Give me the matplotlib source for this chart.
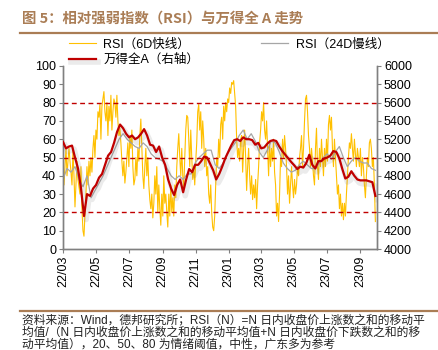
import matplotlib
matplotlib.use("Agg")
import matplotlib.pyplot as plt
import matplotlib.dates as mdates
import matplotlib.patheffects as pe
from matplotlib.lines import Line2D
import pandas as pd

plt.rcParams['font.family'] = ['Liberation Sans', 'Noto Sans CJK SC', 'DejaVu Sans']

start_date = '2022-03-01'
end_date = '2023-09-29'

rsi6 = [50, 35, 45, 55, 40, 48, 55, 48, 42, 35, 54, 40, 23, 35, 48, 38, 34, 30, 45, 22,
        10, 7, 18, 30, 45, 35, 48, 40, 50, 42, 55, 62, 50, 65, 60, 75, 72, 79, 60, 78,
        82, 86, 75, 70, 80, 62, 78, 70, 84, 65, 75, 82, 80, 72, 84, 70, 62, 66, 58, 48,
        40, 48, 36, 42, 50, 58, 45, 62, 55, 65, 45, 35, 38, 50, 40, 55, 48, 62, 71, 55,
        40, 33, 45, 55, 40, 50, 35, 27, 22, 30, 17, 25, 40, 30, 45, 20, 35, 22, 13, 30,
        18, 40, 25, 30, 20, 12, 30, 18, 35, 20, 28, 18, 35, 28, 45, 55, 63, 50, 40, 55,
        40, 33, 50, 65, 73, 72, 60, 45, 65, 50, 38, 45, 35, 48, 58, 75, 79, 65, 75, 55,
        70, 60, 45, 55, 40, 45, 30, 25, 35, 20, 12, 10, 18, 35, 50, 45, 60, 50, 68, 72,
        60, 78, 70, 80, 75, 82, 80, 88, 85, 91, 90, 92, 85, 78, 60, 50, 55, 48, 60, 62,
        42, 55, 65, 50, 32, 45, 55, 40, 30, 40, 27, 35, 28, 38, 22, 35, 45, 58, 65, 75,
        70, 80, 65, 60, 70, 55, 40, 58, 45, 55, 48, 60, 42, 35, 18, 25, 15, 30, 50, 45,
        60, 50, 62, 55, 45, 30, 40, 25, 35, 45, 35, 28, 38, 30, 35, 45, 40, 50, 55, 62,
        45, 55, 70, 82, 84, 75, 62, 55, 45, 55, 48, 40, 35, 55, 66, 45, 38, 55, 45, 60,
        50, 40, 55, 45, 60, 48, 68, 73, 65, 72, 55, 45, 60, 50, 40, 30, 35, 22, 30, 18,
        25, 16, 25, 18, 30, 40, 50, 58, 55, 63, 55, 48, 60, 52, 45, 55, 50, 45, 55, 40,
        50, 45, 35, 28, 40, 50, 45, 58, 60, 55, 45, 50, 35, 15]

rsi24 = [38, 44, 42, 45, 38, 34, 40, 28, 32, 36, 40, 45, 50, 55, 60, 63, 60, 58, 56, 55,
         58, 56, 52, 50, 49, 48, 44, 40, 38, 40, 38, 41, 41, 47, 50, 52, 54, 54, 46, 44,
         47, 52, 55, 58, 62, 65, 60, 63, 59, 53, 50, 54, 59, 58, 53, 47, 44, 42, 43, 46,
         48, 46, 44, 44, 47, 50, 52, 49, 53, 56, 50, 45, 48, 50, 48, 47, 47, 44, 43]

wind_a = [5170, 5100, 5120, 5130, 5000, 4880, 4660, 4360, 4600, 4580, 4660, 4700, 4780, 4820, 4920,
          5020, 5060, 5160, 5280, 5360, 5320, 5260, 5220, 5240, 5200, 5220, 5260, 5310, 5240, 5140,
          5130, 5060, 5120, 5000, 4920, 4760, 4660, 4590, 4700, 4760, 4620, 4760, 4874, 4840, 4920,
          4920, 4960, 5010, 5000, 4930, 4860, 4760, 4820, 4900, 4990, 5060, 5130, 5190, 5200, 5180,
          5220, 5200, 5200, 5190, 5140, 5160, 5100, 5110, 5150, 5180, 5190, 5180, 5120, 5070, 5030,
          4990, 4950, 4914, 4874, 4900, 4890, 4940, 5030, 4920, 4880, 4960, 4960, 4990, 5000, 5020,
          5070, 5060, 4990, 4874, 4770, 4790, 4850, 4800, 4760, 4750, 4750, 4750, 4740, 4730, 4580]

thresholds = [20, 50, 80]

title = "图 5：相对强弱指数（RSI）与万得全 A 走势"
label_rsi6 = "RSI（6D快线）"
label_rsi24 = "RSI（24D慢线）"
label_wind = "万得全A（右轴）"
note_lines = ["资料来源：Wind，德邦研究所；RSI（N）=N 日内收盘价上涨数之和的移动平",
              "均值/（N 日内收盘价上涨数之和的移动平均值+N 日内收盘价下跌数之和的移",
              "动平均值），20、50、80 为情绪阈值，中性，广东多为参考"]

d6 = pd.date_range(start_date, end_date, periods=len(rsi6))
d24 = pd.date_range(start_date, end_date, periods=len(rsi24))
dw = pd.date_range(start_date, end_date, periods=len(wind_a))

brown = '#AA7D55'
spine_c = '#808080'

fig = plt.figure(figsize=(4.38, 3.5), dpi=100)
ax = fig.add_axes([63/438, 1-249/350, (377-63)/438, (249-66)/350])
ax2 = ax.twinx()

l6, = ax.plot(d6, rsi6, color='#FFC000', lw=0.8, zorder=2)
l24, = ax.plot(d24, rsi24, color='#A6A6A6', lw=0.9, zorder=3)
for t in thresholds:
    ax.axhline(t, color='#C00000', lw=1.0, linestyle=(0, (3.5, 2.5)), zorder=4)

lw_, = ax2.plot(dw, wind_a, color='#C00000', lw=1.6, zorder=5,
                path_effects=[pe.SimpleLineShadow(offset=(1.5, -2.5), shadow_color='#666666',
                                                  alpha=0.13, linewidth=4),
                              pe.Normal()])

ax.set_ylim(0, 100)
ax.set_yticks(range(0, 101, 10))
ax2.set_ylim(4000, 6000)
ax2.set_yticks(range(4000, 6001, 200))
ax.set_xlim(pd.Timestamp('2022-03-01'), pd.Timestamp('2023-10-02'))
ax.xaxis.set_major_locator(mdates.MonthLocator(bymonth=[1, 3, 5, 7, 9, 11]))
ax.xaxis.set_major_formatter(mdates.DateFormatter('%y/%m'))
for lab in ax.get_xticklabels():
    lab.set_rotation(90)

for a in (ax, ax2):
    a.spines['top'].set_visible(False)
    for s in ('left', 'right', 'bottom'):
        a.spines[s].set_color(spine_c)
        a.spines[s].set_linewidth(1.0)
    a.tick_params(axis='both', which='both', direction='out', length=3, width=0.8,
                  color=spine_c, labelsize=9, labelcolor='black', pad=2)
ax.patch.set_visible(False)

ax.set_zorder(1)
ax2.set_zorder(2)
ax2.patch.set_visible(False)

fig.legend([l6, lw_, l24], [label_rsi6, label_wind, label_rsi24], ncol=2,
           loc='upper left', bbox_to_anchor=(66/438, 1-36/350), frameon=False,
           fontsize=9, handlelength=2.2, handletextpad=0.6, columnspacing=4.9,
           labelspacing=0.25, borderaxespad=0, borderpad=0.2)

fig.text(22/438, 1-19/350, title, fontsize=10.4, fontweight='bold', color=brown,
         family=['Noto Sans CJK SC'], va='center', ha='left')
fig.add_artist(Line2D([20/438, 1], [1-33/350, 1-33/350], color=brown, lw=1.6))
fig.add_artist(Line2D([20/438, 1], [1-311/350, 1-311/350], color=brown, lw=1.6))
for i, line in enumerate(note_lines):
    fig.text(22/438, 1-(320+12.5*i)/350, line, fontsize=8.5, color='#222222',
             va='center', ha='left')

fig.savefig('out.png', dpi=100)
